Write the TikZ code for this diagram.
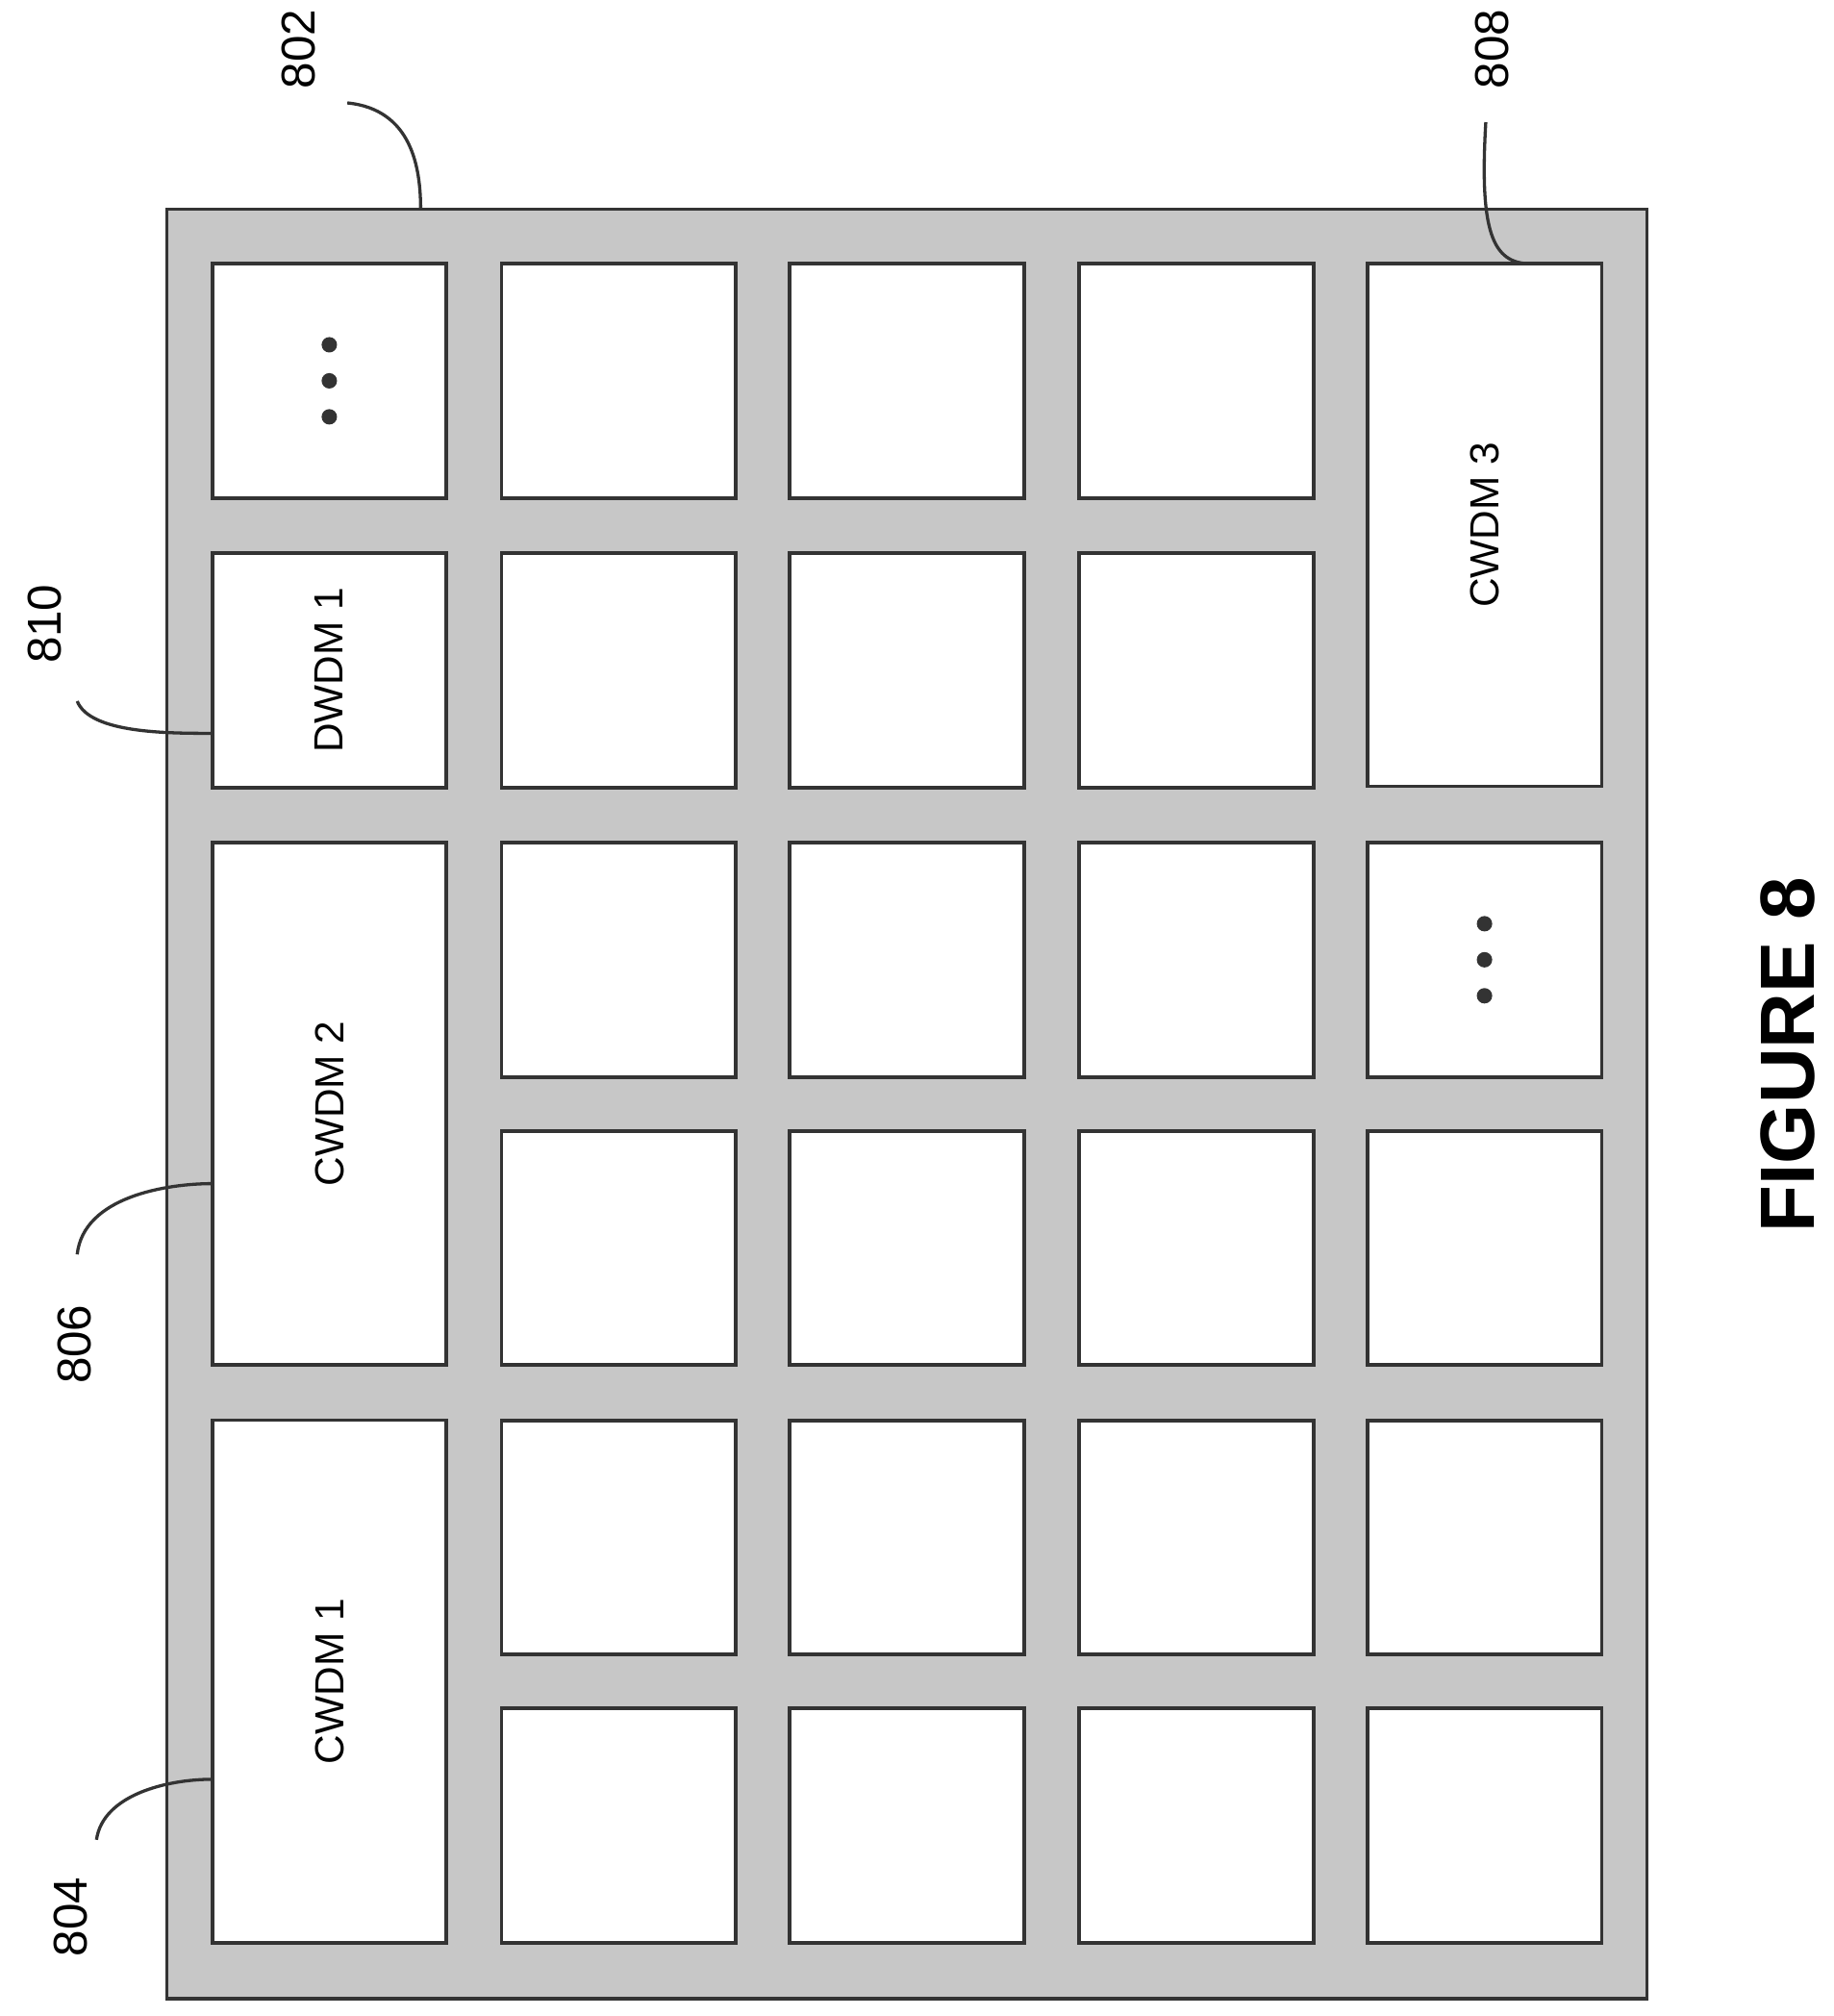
\documentclass[tikz,border=0pt]{standalone}
\usepackage{fontspec}
\setmainfont{Liberation Sans}
\usetikzlibrary{positioning,calc}
\tikzset{
  cell/.style={draw=black!80, fill=white, line width=0.8pt, minimum width=1.82cm, minimum height=1.82cm, inner sep=0pt, font=\fontsize{9}{11}\selectfont},
  tall/.style={cell, minimum height=4.06cm},
  refnum/.style={font=\fontsize{10.5}{12}\selectfont, rotate=90},
  leader/.style={draw=black!80, line width=0.7pt}
}
\begin{document}
\begin{tikzpicture}[x=0.01cm, y=-0.01cm]
\useasboundingbox (0,0) rectangle (1425,1567);
\node[draw=black!80, fill=black!22, line width=0.8pt, minimum width=11.5cm, minimum height=13.9cm, inner sep=0pt] (board) at (705,858) {};

% plain cells
\foreach \c/\x in {2/481,3/705,4/930}
  \foreach \r/\y in {1/296,2/521,3/746,4/970,5/1195,6/1419}
    \node[cell] (c\c r\r) at (\x,\y) {};
\foreach \r/\y in {4/970,5/1195,6/1419}
  \node[cell] (c5r\r) at (1154,\y) {};

% first column
\node[cell] (dots1) at (256,296) {};
\foreach \d in {-28,0,28}
  \fill[black!80] ($(dots1.center)+(0,\d)$) circle (6);
\node[cell] (dwdm1) at (256,521) {\rotatebox{90}{DWDM 1}};
\node[tall] (cwdm2) at (256,858) {\rotatebox{90}{CWDM 2}};
\node[tall] (cwdm1) at (256,1307) {\rotatebox{90}{CWDM 1}};

% last column
\node[tall] (cwdm3) at (1154,408) {\rotatebox{90}{CWDM 3}};
\node[cell] (dots2) at (1154,746) {};
\foreach \d in {-28,0,28}
  \fill[black!80] ($(dots2.center)+(0,\d)$) circle (6);

% reference numerals
\node[refnum] (n802) at (232,38) {802};
\node[refnum] (n808) at (1160,38) {808};
\node[refnum] (n810) at (35,485) {810};
\node[refnum] (n806) at (58,1045) {806};
\node[refnum] (n804) at (55,1490) {804};
\coordinate (t808) at (1190,205);
\coordinate (t810) at (165,570);
\draw[leader] (270,80) .. controls (320,85) and (327,130) .. (327,163);
\draw[leader] (1155,95) .. controls (1150,180) and (1160,205) .. (t808);
\draw[leader] (60,545) .. controls (70,570) and (130,570) .. (t810);
\draw[leader] (60,975) .. controls (65,930) and (130,920) .. (165,920);
\draw[leader] (75,1430) .. controls (80,1395) and (130,1383) .. (165,1383);

\node[font=\bfseries\fontsize{17}{20}\selectfont, rotate=90] (fig) at (1390,820) {FIGURE 8};
\end{tikzpicture}
\end{document}
